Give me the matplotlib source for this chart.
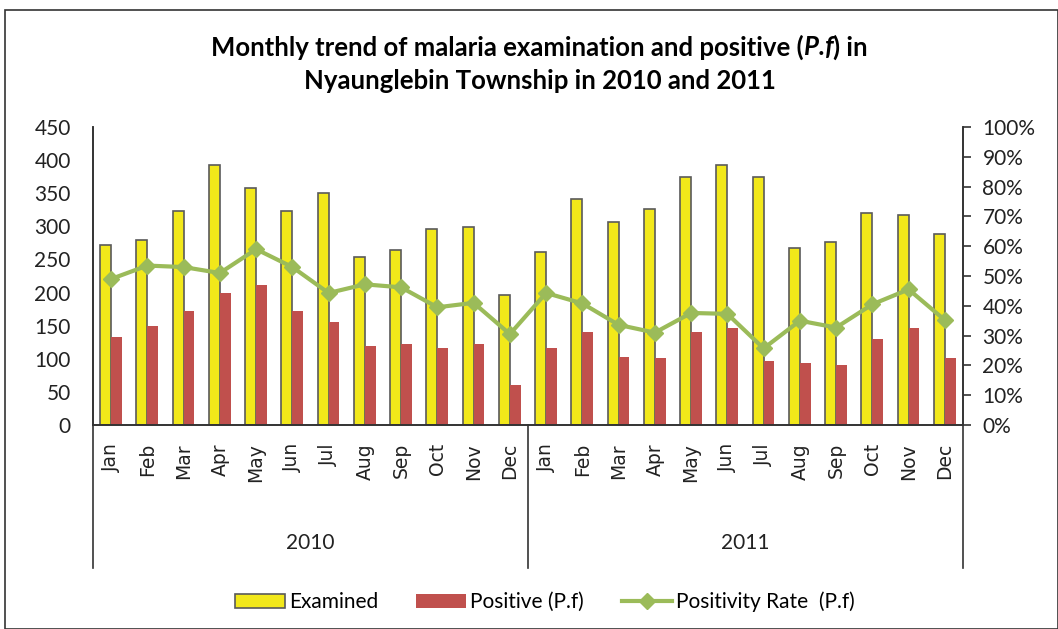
import matplotlib
matplotlib.use("Agg")
import matplotlib.pyplot as plt
import numpy as np
from matplotlib.patches import Rectangle
from matplotlib.ticker import PercentFormatter

months = ['Jan', 'Feb', 'Mar', 'Apr', 'May', 'Jun',
          'Jul', 'Aug', 'Sep', 'Oct', 'Nov', 'Dec']
years = ['2010', '2011']

# examined / positive counts, 2010 then 2011
examined = [272, 280, 323, 392, 358, 323, 350, 254, 265, 296, 299, 197,
            261, 342, 307, 326, 374, 393, 374, 267, 277, 320, 317, 288]
positive = [133, 150, 172, 199, 211, 172, 155, 120, 123, 117, 123, 60,
            116, 140, 103, 101, 141, 147, 96, 93, 91, 130, 147, 101]
# positivity rate in percent
rate = [49.0, 53.5, 53.0, 51.0, 59.0, 53.0, 44.3, 47.2, 46.2, 39.5, 41.0, 30.5,
        44.3, 40.8, 33.6, 31.0, 37.6, 37.3, 25.7, 35.0, 32.7, 40.5, 45.5, 35.2]

font = 'Lato'
dark = '#333333'


def centered_line(fig, y, pieces, size):
    # pieces: list of (text, style); draw them side by side, centred at x=0.51
    r = fig.canvas.get_renderer()
    texts = []
    for s, style in pieces:
        t = fig.text(0, y, s, ha='left', va='center', fontsize=size,
                     fontweight='bold', style=style, family=font)
        texts.append(t)
    widths = [t.get_window_extent(r).width / fig.bbox.width for t in texts]
    x0 = 0.51 - sum(widths) / 2
    for t, wd in zip(texts, widths):
        t.set_x(x0)
        x0 += wd


fig = plt.figure(figsize=(10.58, 6.29), dpi=100)
ax = fig.add_axes([0.0879, 0.3243, 0.8223, 0.4738])
ax2 = ax.twinx()

x = np.arange(len(examined))
w = 0.3
ax.bar(x - w / 2, examined, w, color='#F2E81A', edgecolor='#5a5a5a',
       linewidth=1.2, label='Examined', zorder=2)
ax.bar(x + w / 2, positive, w, color='#C0504D', label='Positive (P.f)', zorder=2)
ax2.plot(x, np.array(rate) / 100, color='#9BBB59', lw=3, marker='D',
         markersize=8, label='Positivity Rate  (P.f)', zorder=3)

ax.set_xlim(-0.5, len(x) - 0.5)
ax.set_ylim(0, 450)
ax.set_yticks(np.arange(0, 451, 50))
ax2.set_ylim(0, 1)
ax2.set_yticks(np.arange(0, 1.01, 0.1))
ax2.yaxis.set_major_formatter(PercentFormatter(1.0, decimals=0))

ax.set_xticks(x)
ax.set_xticklabels(months * 2, rotation=90, fontsize=13.5,
                   family='DejaVu Sans', color='#222222')
ax.tick_params(axis='x', length=0, pad=13)
ax.tick_params(axis='y', length=0, pad=16, labelsize=15, colors='#222222')
ax2.tick_params(axis='y', length=6, width=1.2, pad=8, labelsize=15,
                colors='#222222', color=dark)
for lab in ax.get_yticklabels() + ax2.get_yticklabels():
    lab.set_family(font)

for a in (ax, ax2):
    a.spines['top'].set_visible(False)
    for s in ('left', 'right', 'bottom'):
        a.spines[s].set_color(dark)
        a.spines[s].set_linewidth(1.2)

# group separators and year labels below the axis
trans = ax.get_xaxis_transform()
for xs in (-0.5, 11.5, 23.5):
    ax.plot([xs, xs], [0, -0.48], transform=trans, color=dark, lw=1.2,
            clip_on=False)
for i, yr in enumerate(years):
    ax.text(i * 12 + 5.5, -0.395, yr, transform=trans, ha='center',
            va='center', fontsize=15, family=font, color='#222222')

centered_line(fig, 0.925, [('Monthly trend of malaria examination and positive (', 'normal'),
                           ('P.f', 'italic'), (') in', 'normal')], 18.5)
centered_line(fig, 0.872, [('Nyaunglebin Township in 2010 and 2011', 'normal')], 18.5)

h1, l1 = ax.get_legend_handles_labels()
h2, l2 = ax2.get_legend_handles_labels()
leg = fig.legend(h1 + h2, l1 + l2, loc='center', bbox_to_anchor=(0.515, 0.043),
                 ncol=3, frameon=False, prop={'family': font, 'size': 15},
                 handlelength=2.4, columnspacing=1.8, handletextpad=0.2)

fig.patches.append(Rectangle((0.005, 0.0), 0.995, 0.984, transform=fig.transFigure,
                             fill=False, edgecolor=dark, lw=1.2))

fig.savefig('out.png', dpi=100)
